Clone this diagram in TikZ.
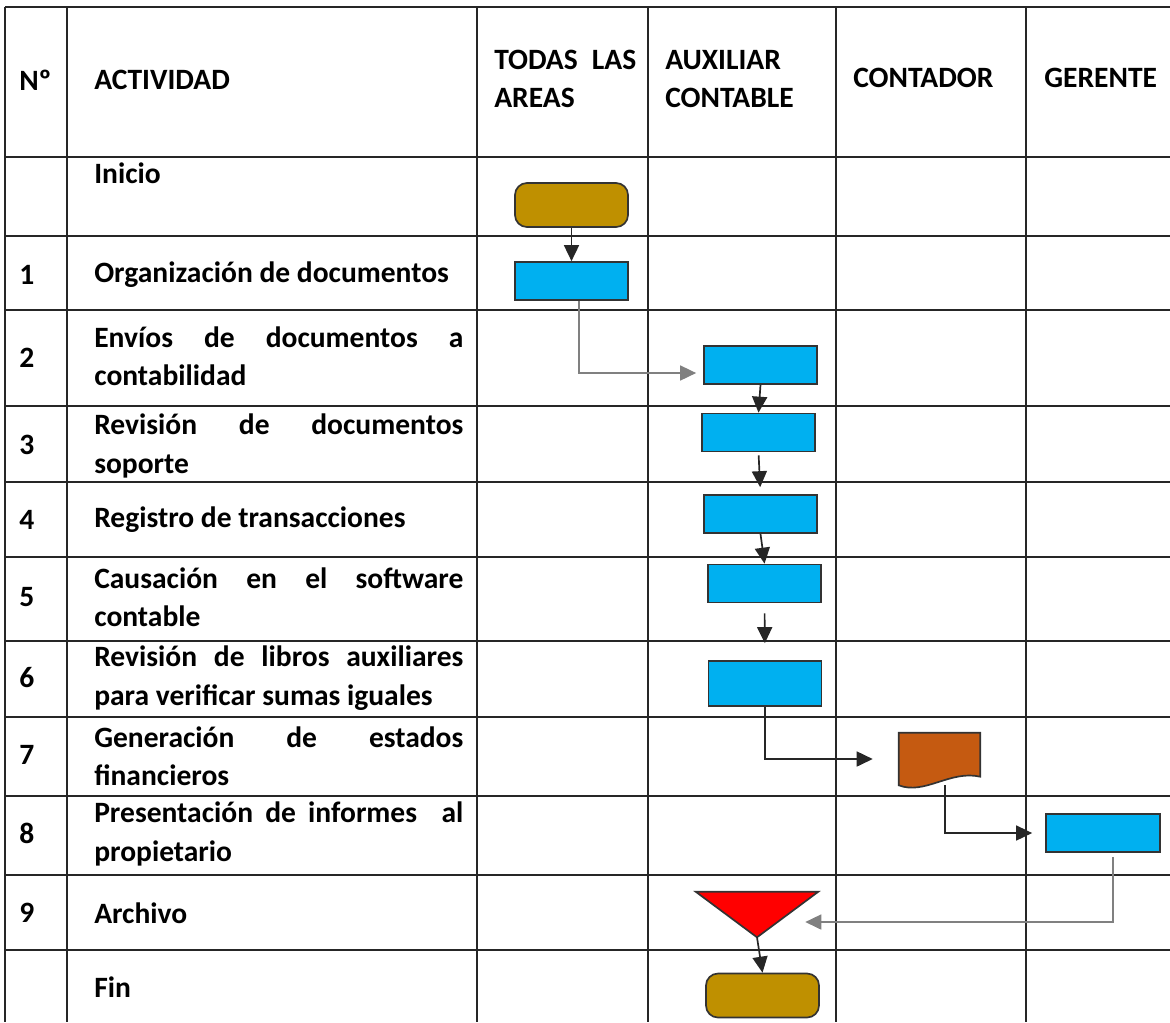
\documentclass[tikz,border=0pt]{standalone}
\usepackage{fontspec}
\setmainfont{Carlito}
\usetikzlibrary{arrows.meta}

\definecolor{oro}{HTML}{BF9000}
\definecolor{celeste}{HTML}{00B0F0}
\definecolor{cafe}{HTML}{C55A11}

\begin{document}
\begin{tikzpicture}[x=0.025cm,y=-0.025cm,
    every node/.style={font=\fontsize{21}{27.3}\selectfont\bfseries,inner sep=0pt},
    linea/.style={line width=1.3pt,black!85},
    terminal/.style={draw=black!80,line width=1.2pt,fill=oro,rounded corners=0.3cm,minimum width=2.825cm,minimum height=1.1cm},
    proceso/.style={draw=black!80,line width=1.2pt,fill=celeste,minimum width=2.825cm,minimum height=0.95cm},
    flecha/.style={-{Triangle[length=0.4cm,width=0.375cm]},line width=1.2pt,black!85},
    texto/.style={anchor=west,text width=9.225cm,align=justify}]
        \useasboundingbox(0,0)rectangle(1170,1022);
        \foreach \y in {7,157,236,310,406,482,557,641,717,796,875,950}
            \draw[linea](5,\y)--(1170,\y);
        \foreach \x in {5,67,477,648,836,1026}
            \draw[linea](\x,7)--(\x,1022);

        \node[anchor=west](hnum)at(19,80){Nº};
        \node[anchor=west](hact)at(94,80){ACTIVIDAD};
        \node[anchor=west,text width=3.55cm,align=justify](htod)at(494,79){TODAS LAS\linebreak AREAS};
        \node[anchor=west,align=left](haux)at(665,79){AUXILIAR\\CONTABLE};
        \node[anchor=west](hcon)at(853,78){CONTADOR};
        \node[anchor=west](hger)at(1044,78){GERENTE};

        \node[anchor=west](n1)at(19,275){1};
        \node[anchor=west](n2)at(19,358){2};
        \node[anchor=west](n3)at(19,445){3};
        \node[anchor=west](n4)at(19,520){4};
        \node[anchor=west](n5)at(19,597){5};
        \node[anchor=west](n6)at(19,678){6};
        \node[anchor=west](n7)at(19,755){7};
        \node[anchor=west](n8)at(19,833){8};
        \node[anchor=west](n9)at(19,913){9};

        \node[anchor=west](t0)at(94,173){Inicio};
        \node[anchor=west](t1)at(94,275){Organización de documentos};
        \node[texto](t2)at(94,356){Envíos de documentos a\linebreak contabilidad};
        \node[texto](t3)at(94,446){Revisión de documentos\linebreak soporte};
        \node[anchor=west](t4)at(94,520){Registro de transacciones};
        \node[texto](t5)at(94,597){Causación en el software\linebreak contable};
        \node[texto](t6)at(94,678){Revisión de libros auxiliares\linebreak para verificar sumas iguales};
        \node[texto](t7)at(94,756){Generación de estados\linebreak financieros};
        \node[texto](t8)at(94,834){Presentación de informes \ al\linebreak propietario};
        \node[anchor=west](t9)at(94,913){Archivo};
        \node[anchor=west](t10)at(94,987){Fin};

        \node[terminal](ini)at(571.5,205){};
        \node[proceso](org)at(571.5,281){};
        \node[proceso](env)at(760.5,365){};
        \node[proceso](rev)at(758.5,432.5){};
        \node[proceso](reg)at(760.5,514){};
        \node[proceso](cau)at(764.5,583.5){};
        \node[proceso,minimum height=1.125cm](lib)at(765,683.5){};
        \node[minimum width=2.025cm,minimum height=1.3cm](gen)at(939.5,759){};
        \filldraw[draw=black!80,line width=1.2pt,fill=cafe](gen.north west)--(gen.north east)--++(0,44)
            .. controls +(-30,-7) and +(26,10) .. (gen.south west)--cycle;
        \node[proceso,minimum width=2.85cm](pre)at(1103,833){};
        \node[minimum width=3.05cm,minimum height=1.125cm](arch)at(757,914.5){};
        \filldraw[draw=black!80,line width=1.2pt,fill=red](arch.north west)--(arch.north east)--(arch.south)--cycle;
        \node[terminal](fin)at(762.5,995.5){};

        \draw[flecha](ini.south)--(org.north);
        \draw[flecha,gray,shorten >=0.175cm]([xshift=0.1875cm]org.south)|-([yshift=-0.2cm]env.west);
        \draw[flecha](env.south)--(rev.north);
        \draw[flecha,shorten <=0.075cm,shorten >=0.175cm](rev.south)--(reg.north);
        \draw[flecha](reg.south)--(cau.north);
        \draw[flecha,shorten <=0.25cm,shorten >=0.425cm](cau.south)--(lib.north);
        \draw[flecha,shorten >=0.65cm](lib.south)|-(gen.west);
        \draw[flecha,shorten >=0.325cm]([xshift=0.14cm]gen.south)|-(pre.west);
        \draw[flecha,gray,shorten <=0.1cm,shorten >=-0.325cm]([xshift=0.25cm]pre.south)|-([yshift=-0.1875cm]arch.east);
        \draw[flecha](arch.south)--(fin.north);
    \end{tikzpicture}
\end{document}
